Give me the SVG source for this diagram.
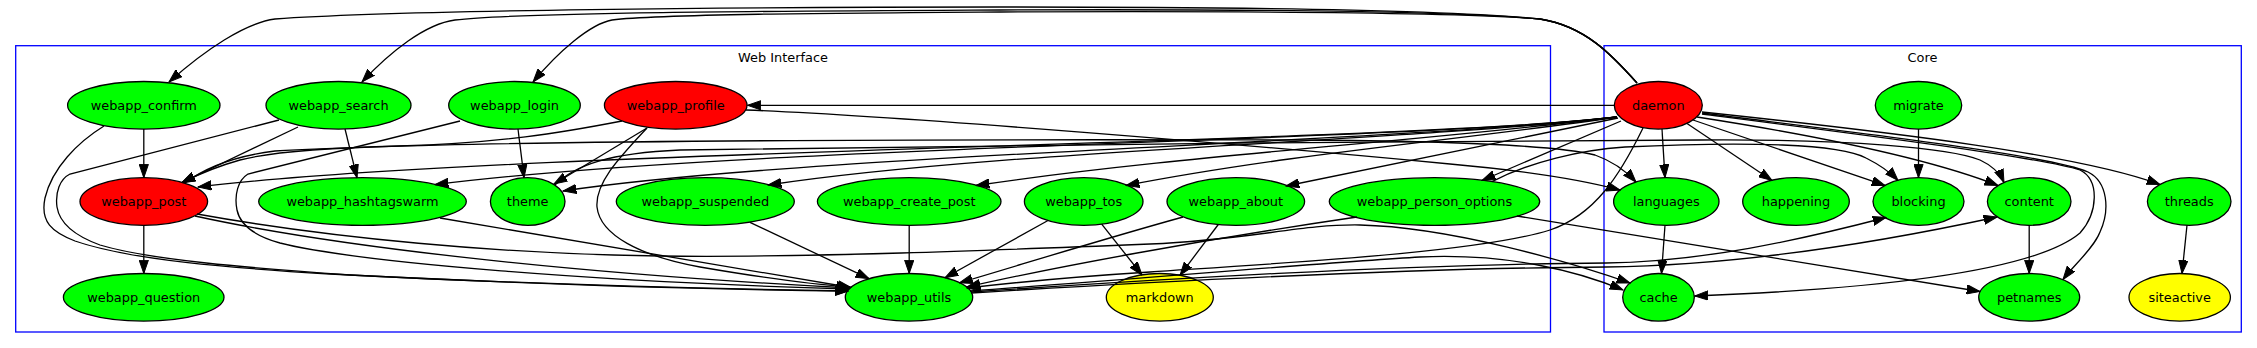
<svg xmlns="http://www.w3.org/2000/svg" width="2257" height="348" viewBox="0 0 2257 348">
<style>
.bg{fill:#fff}
.cl{fill:none;stroke:#0000ff;stroke-width:1.3}
.nd{stroke:#000;stroke-width:1.3}
.g{fill:#00ff00}.r{fill:#ff0000}.y{fill:#ffff00}
text{font-family:"DejaVu Sans","Noto Sans",sans-serif;font-size:12.9px;fill:#000;text-anchor:middle}
.e path{fill:none;stroke:#000;stroke-width:1.3;marker-end:url(#ah)}
</style>
<defs>
<marker id="ah" markerUnits="userSpaceOnUse" viewBox="0 0 14 10" markerWidth="14" markerHeight="10" refX="13.3" refY="5" orient="auto">
<path d="M0,0.4 L13.3,5 L0,9.6 Z" fill="#000" stroke="#000" stroke-width="1"/>
</marker>
</defs>
<rect class="bg" x="0" y="0" width="2257" height="348"/>
<g id="cluster_web">
<rect class="cl" x="15.7" y="45.7" width="1534.8" height="286.3"/>
<text x="783" y="62">Web Interface</text>
</g>
<g id="cluster_core">
<rect class="cl" x="1604" y="45.7" width="637.3" height="286.3"/>
<text x="1922.5" y="62">Core</text>
</g>

<g id="n_confirm"><ellipse class="nd g" cx="143.8" cy="105.3" rx="76.2" ry="23.8"/><text x="143.8" y="109.6">webapp_confirm</text></g>
<g id="n_search"><ellipse class="nd g" cx="338.5" cy="105.3" rx="72.5" ry="23.8"/><text x="338.5" y="109.6">webapp_search</text></g>
<g id="n_login"><ellipse class="nd g" cx="514.5" cy="105.3" rx="65.8" ry="23.8"/><text x="514.5" y="109.6">webapp_login</text></g>
<g id="n_profile"><ellipse class="nd r" cx="675.7" cy="105.3" rx="71.3" ry="23.8"/><text x="675.7" y="109.6">webapp_profile</text></g>
<g id="n_post"><ellipse class="nd r" cx="143.8" cy="201.5" rx="63.8" ry="23.8"/><text x="143.8" y="205.8">webapp_post</text></g>
<g id="n_hashtagswarm"><ellipse class="nd g" cx="362.5" cy="201.5" rx="103.8" ry="23.8"/><text x="362.5" y="205.8">webapp_hashtagswarm</text></g>
<g id="n_theme"><ellipse class="nd g" cx="527.7" cy="201.5" rx="37.3" ry="23.8"/><text x="527.7" y="205.8">theme</text></g>
<g id="n_suspended"><ellipse class="nd g" cx="705.3" cy="201.5" rx="89" ry="23.8"/><text x="705.3" y="205.8">webapp_suspended</text></g>
<g id="n_create_post"><ellipse class="nd g" cx="909.2" cy="201.5" rx="91.8" ry="23.8"/><text x="909.2" y="205.8">webapp_create_post</text></g>
<g id="n_tos"><ellipse class="nd g" cx="1083.7" cy="201.5" rx="59.3" ry="23.8"/><text x="1083.7" y="205.8">webapp_tos</text></g>
<g id="n_about"><ellipse class="nd g" cx="1235.8" cy="201.5" rx="68.8" ry="23.8"/><text x="1235.8" y="205.8">webapp_about</text></g>
<g id="n_person_options"><ellipse class="nd g" cx="1434.5" cy="201.5" rx="105.2" ry="23.8"/><text x="1434.5" y="205.8">webapp_person_options</text></g>
<g id="n_question"><ellipse class="nd g" cx="143.7" cy="297.3" rx="80.3" ry="23.8"/><text x="143.7" y="301.6">webapp_question</text></g>
<g id="n_utils"><ellipse class="nd g" cx="909" cy="297.3" rx="63.7" ry="23.8"/><text x="909" y="301.6">webapp_utils</text></g>
<g id="n_markdown"><ellipse class="nd y" cx="1159.8" cy="297.3" rx="53.5" ry="23.8"/><text x="1159.8" y="301.6">markdown</text></g>
<g id="n_daemon"><ellipse class="nd r" cx="1658.3" cy="105.3" rx="44" ry="23.8"/><text x="1658.3" y="109.6">daemon</text></g>
<g id="n_migrate"><ellipse class="nd g" cx="1918.5" cy="105.3" rx="43.2" ry="23.8"/><text x="1918.5" y="109.6">migrate</text></g>
<g id="n_languages"><ellipse class="nd g" cx="1666.3" cy="201.5" rx="52.7" ry="23.8"/><text x="1666.3" y="205.8">languages</text></g>
<g id="n_happening"><ellipse class="nd g" cx="1796" cy="201.5" rx="53.3" ry="23.8"/><text x="1796" y="205.8">happening</text></g>
<g id="n_blocking"><ellipse class="nd g" cx="1918.5" cy="201.5" rx="45.5" ry="23.8"/><text x="1918.5" y="205.8">blocking</text></g>
<g id="n_content"><ellipse class="nd g" cx="2029.2" cy="201.5" rx="41.8" ry="23.8"/><text x="2029.2" y="205.8">content</text></g>
<g id="n_threads"><ellipse class="nd g" cx="2189.2" cy="201.5" rx="41.8" ry="23.8"/><text x="2189.2" y="205.8">threads</text></g>
<g id="n_cache"><ellipse class="nd g" cx="1658.5" cy="297.3" rx="35.8" ry="23.8"/><text x="1658.5" y="301.6">cache</text></g>
<g id="n_petnames"><ellipse class="nd g" cx="2029.2" cy="297.3" rx="50.5" ry="23.8"/><text x="2029.2" y="301.6">petnames</text></g>
<g id="n_siteactive"><ellipse class="nd y" cx="2179.7" cy="297.3" rx="50.7" ry="23.8"/><text x="2179.7" y="301.6">siteactive</text></g>

<g id="edges" class="e">
<path d="M1637,83 C1612,55 1585,26 1540,19 C1450,10 1250,7 1000,7 C750,7 400,10 275,19 C245,23 205,50 169,82"/>
<path d="M1637,83 C1612,55 1585,26 1540,19 C1450,11 1250,9 1000,10 C800,11 520,12 455,20 C425,24 390,52 362,82"/>
<path d="M1637,83 C1612,55 1585,26 1540,19 C1450,12 1250,11 1000,12 C850,13 660,14 612,20 C590,24 558,52 533,82"/>
<path d="M1614,105.3 L747.5,105.3"/>
<path d="M1617,117 C1400,143 500,150 198,187"/>
<path d="M1617,117 C1400,142 750,145 435,184.6"/>
<path d="M1617,117 C1400,142 800,155 563,191"/>
<path d="M1617,117 C1400,142 1000,150 768,185"/>
<path d="M1617,117 C1420,142 1180,155 976,185.5"/>
<path d="M1617,117 C1480,138 1300,152 1126,185.5"/>
<path d="M1618,118 L1286,186"/>
<path d="M1621,121 L1482,180.5"/>
<path d="M1643,128 C1620,175 1595,215 1550,230 C1480,252 1300,262 1150,272 C1070,277 1010,283 967,288"/>
<path d="M1662,129 L1665,177.7"/>
<path d="M1687,123.5 L1772,180.5"/>
<path d="M1693,120 L1885,185.4"/>
<path d="M1697,117 C1800,133 1920,155 1998,185.5"/>
<path d="M1702,112 C1900,133 2080,155 2160,184.5"/>
<path d="M1702,113 C1850,132 2050,155 2088,172 C2108,182 2110,210 2100,232 C2094,248 2073,266 2063,279.5"/>
<path d="M1702,114 C1850,133 2040,157 2080,170 C2100,180 2098,213 2080,233 C2030,275 1850,290 1694.5,296"/>
<path d="M1918.5,129.1 L1918.5,177.7"/>
<path d="M1665,225.3 L1661.5,273.5"/>
<path d="M2029.2,225.3 L2029.2,273.5"/>
<path d="M2187,225.3 L2182,273.5"/>
<path d="M143.8,129.1 L143.8,177.7"/>
<path d="M143.8,225.3 L143.8,273.5"/>
<path d="M104,126 C78,142 52,168 45,198 C40,222 52,232 75,241 C130,260 230,268 330,274 C520,284 730,289 848,291"/>
<path d="M298,127 L182,182.5"/>
<path d="M345,129 L357,177.7"/>
<path d="M279,120 L70,174 C60,179 55,192 57,207 C60,226 78,237 100,245 C150,260 250,268 350,275 C550,285 740,290 848,291"/>
<path d="M518,129 L524,177.7"/>
<path d="M460,121 L248,174 C238,180 234,195 237,210 C240,225 255,236 280,243 C360,263 600,282 849,289"/>
<path d="M622,121 C560,133 500,143 400,146 C320,148 270,152 240,160 C215,167 197,175 182,182.5"/>
<path d="M647,128 L554,184"/>
<path d="M647,128 C622,155 595,182 597,207 C600,235 640,256 700,267 C770,279 820,285 850,287"/>
<path d="M746,110 C900,116 1250,145 1450,164 C1540,172 1590,182 1620,190"/>
<path d="M195,216 C350,250 600,275 850,288"/>
<path d="M197,214 C330,238 500,254 660,256 C800,258 1000,250 1150,244 C1250,240 1300,224 1360,225 C1450,227 1570,262 1630,283"/>
<path d="M185,183 C205,168 235,156 275,151 C450,141 900,139 1300,140 C1450,141 1560,146 1595,155 C1612,161 1626,171 1636,182"/>
<path d="M555,185 C575,165 610,153 680,150 C900,146 1400,141 1700,140 C1850,139 1950,148 1980,160 C1993,166 2000,173 2004,182.5"/>
<path d="M440,218 C600,245 750,270 851,287.5"/>
<path d="M750,222.3 L869,278.7"/>
<path d="M909.2,225.3 L909.2,273.5"/>
<path d="M1048,220.5 L945,277.7"/>
<path d="M1101.7,224.2 L1142,275"/>
<path d="M1183,217 C1100,240 1020,265 959.5,282.8"/>
<path d="M1218.3,224.5 L1180,275.3"/>
<path d="M1357,217 C1200,240 1050,268 967,287"/>
<path d="M1517,216 L1980,291.5"/>
<path d="M1492,181.6 C1530,162 1580,150 1625,147 C1750,141 1840,144 1866,158 C1880,165 1890,172 1898,180.5"/>
<path d="M970,291 C1150,278 1330,262 1420,257 C1510,253 1580,272 1623,290"/>
<path d="M971,292 C1150,280 1400,264 1606,263 C1700,262 1800,240 1886,217.5"/>
<path d="M971,293 C1150,282 1400,268 1606,267 C1750,265 1900,238 1997,217"/>
</g>
</svg>
